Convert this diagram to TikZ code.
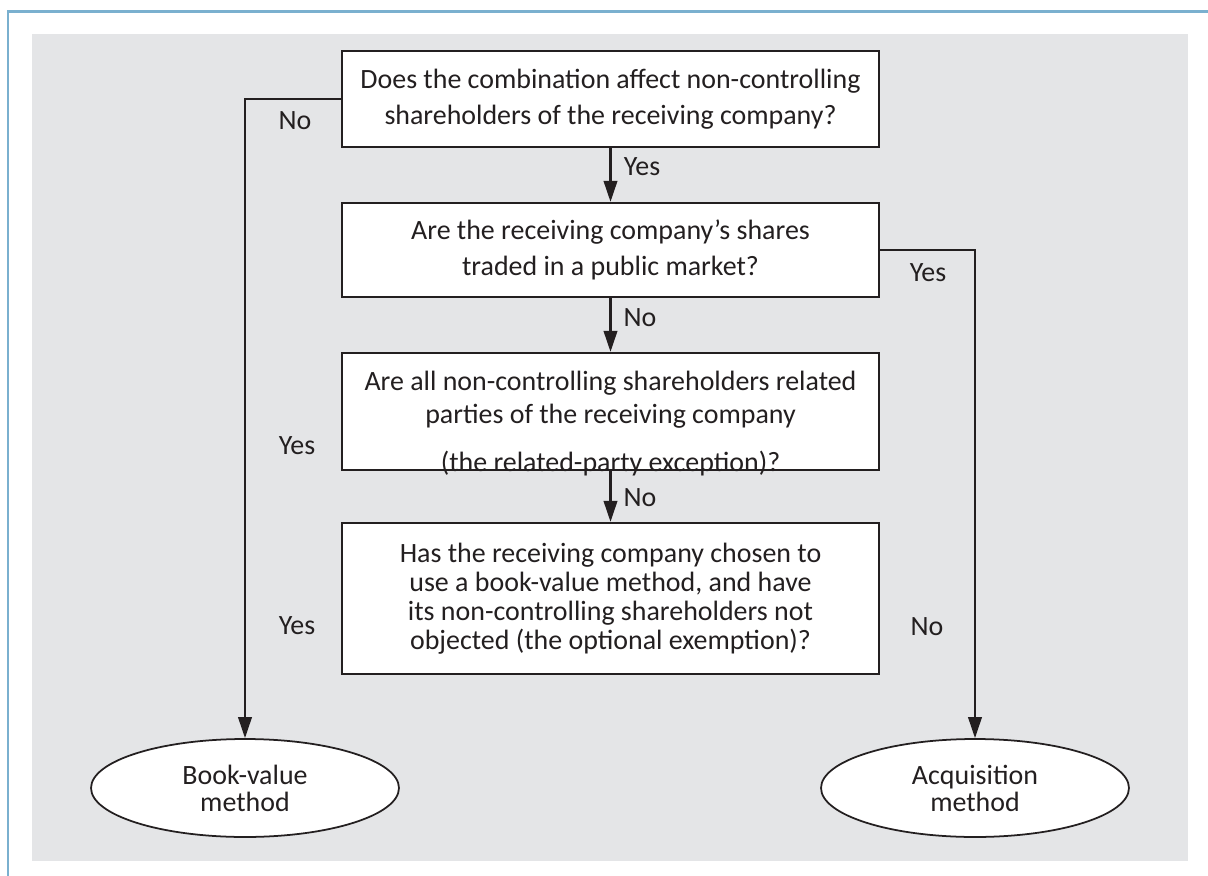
\documentclass[tikz,border=0pt]{standalone}
\usepackage{fontspec}
\setmainfont{Carlito}
\usepackage{tikz}
\usetikzlibrary{arrows.meta,shapes.geometric}
\definecolor{framebl}{RGB}{122,176,207}
\definecolor{panelgr}{RGB}{228,229,231}
\definecolor{ink}{RGB}{35,31,32}
\tikzset{every node/.append style={font=\fontsize{15.9}{20.4}\selectfont, text=ink}}
\tikzset{qbox/.style={draw=ink, fill=white, line width=1.3pt, minimum width=10.74cm, align=center, inner sep=0pt}}
\tikzset{result/.style={draw=ink, fill=white, ellipse, line width=1pt, minimum width=6.16cm, minimum height=1.96cm, inner sep=0pt, align=center, font=\fontsize{15.9}{15.3}\selectfont}}
\tikzset{flow/.style={draw=ink, line width=1.3pt, -{Triangle[length=0.42cm,width=0.27cm]}}}

\begin{document}
\begin{tikzpicture}[x=0.02cm, y=-0.02cm]
  \useasboundingbox (0,0) rectangle (1208,876);
  \fill[panelgr] (32,34) rectangle (1188,861);
  \draw[framebl, line width=0.06cm] (8,876)--(8,11)--(1208,11);

  % questions
  \node[qbox, minimum height=1.92cm] (combo) at (610.5,99)
    {Does the combination affect non-controlling\\ shareholders of the receiving company?};
  \node[qbox, minimum height=1.88cm] (public) at (610.5,250)
    {Are the receiving company’s shares\\ traded in a public market?};
  \node[qbox, minimum height=2.34cm] (related) at (610.5,411.5) {};
  \node[align=center, inner sep=0pt, font=\fontsize{15.9}{18.7}\selectfont] (relatedtxt) at (610.5,423.5)
    {Are all non-controlling shareholders related\\ parties of the receiving company\\[9pt] (the related-party exception)?};
  \node[qbox, minimum height=3.02cm, font=\fontsize{15.9}{16.4}\selectfont] (optional) at (610.5,598.5)
    {Has the receiving company chosen to\\ use a book-value method, and have\\ its non-controlling shareholders not\\ objected (the optional exemption)?};

  % outcomes
  \node[result] (bookvalue) at (245,788) {Book-value\\ method};
  \node[result] (acquisition) at (975,788) {Acquisition\\ method};

  \draw[flow] (combo) -- (public);
  \draw[flow] (public) -- (related);
  \draw[flow] (related) -- (optional);
  \draw[flow] (combo.west) -| (bookvalue.north);
  \draw[flow] (public.east) -| (acquisition.north);

  \node (yesA) at (642,167) {Yes};
  \node (noA) at (640,318) {No};
  \node (noB) at (640,498) {No};
  \node (noC) at (295,121) {No};
  \node (yesB) at (297,446) {Yes};
  \node (yesC) at (297,626) {Yes};
  \node (yesD) at (928,273) {Yes};
  \node (noD) at (927,627) {No};
\end{tikzpicture}
\end{document}
